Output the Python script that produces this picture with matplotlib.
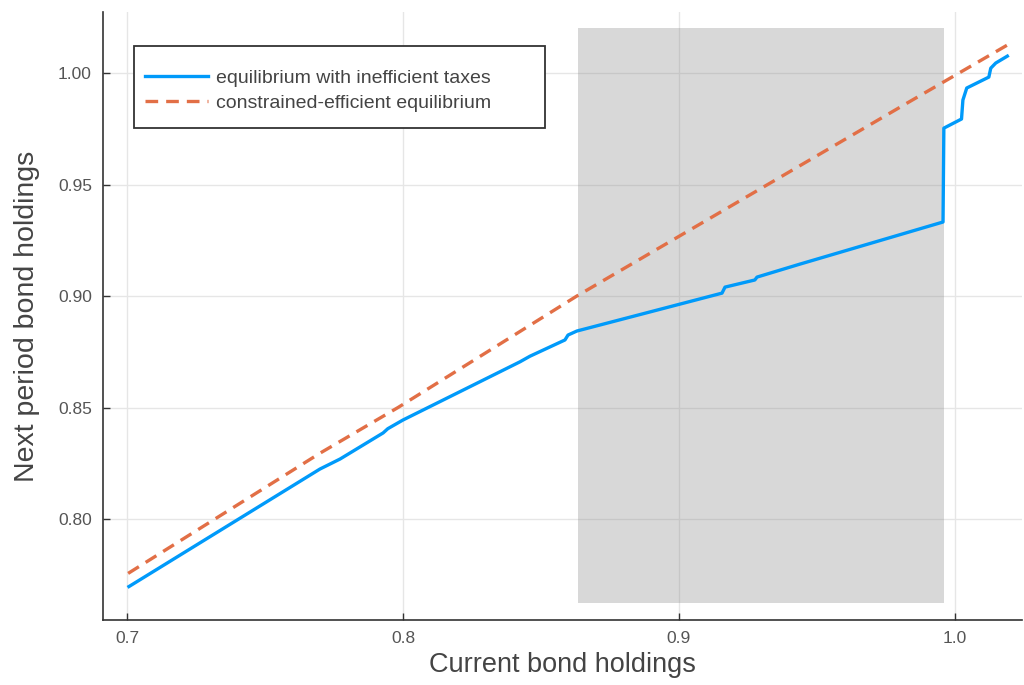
import matplotlib
matplotlib.use("Agg")
import matplotlib.pyplot as plt
from matplotlib.patches import Rectangle

plt.rcParams['font.family'] = ['Liberation Sans', 'DejaVu Sans']

# blue line: equilibrium with inefficient taxes
b_x = [0.7007, 0.7699, 0.7772, 0.7928, 0.7945, 0.8000, 0.8424, 0.8460, 0.8587,
       0.8598, 0.8630, 0.9156, 0.9167, 0.9275, 0.9283, 0.9438, 0.9957, 0.9960,
       1.0024, 1.0029, 1.0043, 1.0123, 1.0130, 1.0148, 1.0190]
b_y = [0.7697, 0.8224, 0.8269, 0.8386, 0.8405, 0.8444, 0.8705, 0.8730, 0.8803,
       0.8825, 0.8843, 0.9013, 0.9040, 0.9072, 0.9085, 0.9143, 0.9332, 0.9753,
       0.9794, 0.9879, 0.9933, 0.9982, 1.0022, 1.0045, 1.0076]

# orange dashed: constrained-efficient equilibrium
o_x = [0.7004, 0.7699, 0.7982, 0.8630, 0.9815, 1.0196]
o_y = [0.7756, 0.8295, 0.8500, 0.9000, 0.9857, 1.0130]

# shaded area
shade_x = [0.8634, 0.9960]
shade_lo = 0.7623
shade_hi = 1.0202

xticks = [0.7, 0.8, 0.9, 1.0]
xtick_labels = ["0.7", "0.8", "0.9", "1.0"]
yticks = [0.80, 0.85, 0.90, 0.95, 1.00]
ytick_labels = ["0.80", "0.85", "0.90", "0.95", "1.00"]

fig = plt.figure(figsize=(10.24, 6.85), dpi=100)
ax = fig.add_axes([0.1006, 0.0949, 0.8974, 0.8876])

ax.fill_between(shade_x, shade_lo, shade_hi, color='gray', alpha=0.3, lw=0, zorder=2)
ax.plot(b_x, b_y, color='#009AFA', lw=2.4, label='equilibrium with inefficient taxes', zorder=3)
ax.plot(o_x, o_y, color='#E26F46', lw=2.4, ls=(0, (3.8, 2.4)),
        label='constrained-efficient equilibrium', zorder=3)

ax.set_xlim(0.6913, 1.0243)
ax.set_ylim(0.7547, 1.0274)
ax.set_xticks(xticks)
ax.set_xticklabels(xtick_labels)
ax.set_yticks(yticks)
ax.set_yticklabels(ytick_labels)

ax.grid(True, color='#e6e6e6', lw=1, zorder=0)
ax.set_axisbelow(True)
ax.tick_params(direction='in', length=5, width=1, colors='#333333', labelcolor='#555555',
               labelsize=12.5, pad=8)
for s in ['top', 'right']:
    ax.spines[s].set_visible(False)
for s in ['left', 'bottom']:
    ax.spines[s].set_color('#333333')
    ax.spines[s].set_linewidth(1.2)

ax.set_xlabel("Current bond holdings", fontsize=19.5, color='#444444', labelpad=4)
ax.set_ylabel("Next period bond holdings", fontsize=20.5, color='#444444', labelpad=13)

# legend box drawn by hand so the padding matches
ax.add_patch(Rectangle((0.0337, 0.809), 0.4473, 0.135, transform=ax.transAxes,
                       facecolor='white', edgecolor='#333333', lw=1.3, zorder=5))
leg = ax.legend(loc='upper left', bbox_to_anchor=(0.0457, 0.906), fontsize=14,
                frameon=False, handlelength=3.25, handletextpad=0.4,
                borderpad=0, borderaxespad=0, labelspacing=0.4)
leg.set_zorder(6)
for t in leg.get_texts():
    t.set_color('#444444')

fig.savefig("out.png", dpi=100)
